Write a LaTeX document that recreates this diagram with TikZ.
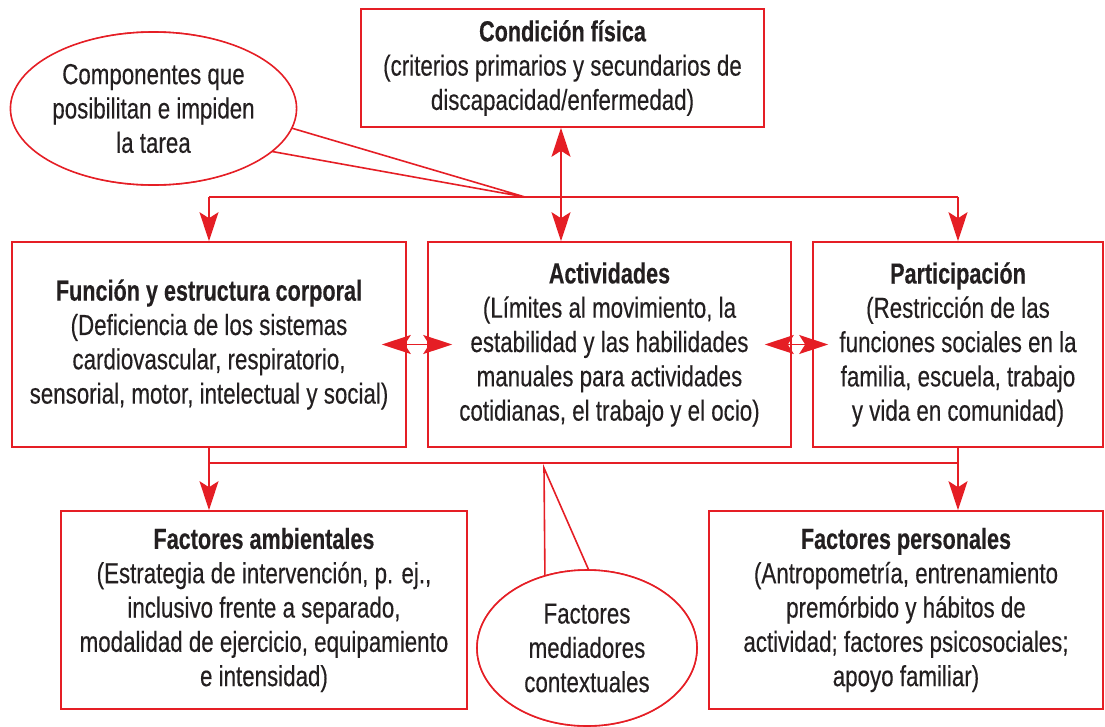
\documentclass[tikz,border=0pt]{standalone}
\usepackage{fontspec}
\setmainfont{Liberation Sans}[FakeStretch=0.77, FakeBold=0.3, BoldFeatures={FakeStretch=0.745}]
\usetikzlibrary{shapes.geometric,arrows.meta,calc}
\definecolor{rd}{HTML}{E51E25}
\definecolor{tx}{HTML}{231F20}
\tikzset{
  txt/.style={text=tx, align=center, font=\fontsize{29}{34.3}\selectfont},
  box/.style={txt, draw=rd, line width=1.6pt, fill=white, inner sep=0pt},
  oval/.style={txt, ellipse, draw=rd, line width=1.6pt, fill=white, inner sep=0pt},
  con/.style={draw=rd, line width=1.6pt},
  tip/.tip={Stealth[length=29pt,width=19pt,inset=6pt]},
  arr/.style={con, -tip},
  dbl/.style={con, tip-tip},
}
\begin{document}
\begin{tikzpicture}[x=1pt,y=-1pt]
\useasboundingbox (0,0) rectangle (1105,726);
% boxes
\node[box, minimum width=403pt, minimum height=118pt] (cond) at (562.5,68)
  {{\bfseries Condición física}\\(criterios primarios y secundarios de\\discapacidad/enfermedad)};
\node[box, minimum width=394pt, minimum height=205pt] (fun) at (209,344.5)
  {{\bfseries Función y estructura corporal}\\(Deficiencia de los sistemas\\cardiovascular, respiratorio,\\sensorial, motor, intelectual y social)};
\node[box, minimum width=363pt, minimum height=205pt] (act) at (609.5,344.5)
  {{\bfseries Actividades}\\(Límites al movimiento, la\\estabilidad y las habilidades\\manuales para actividades\\cotidianas, el trabajo y el ocio)};
\node[box, minimum width=290pt, minimum height=205pt] (par) at (958,344.5)
  {{\bfseries Participación}\\(Restricción de las\\funciones sociales en la\\familia, escuela, trabajo\\y vida en comunidad)};
\node[box, minimum width=406pt, minimum height=198pt] (amb) at (264,610)
  {{\bfseries Factores ambientales}\\(Estrategia de intervención, p. ej.,\\inclusivo frente a separado,\\modalidad de ejercicio, equipamiento\\e intensidad)};
\node[box, minimum width=394pt, minimum height=198pt] (per) at (906,610)
  {{\bfseries Factores personales}\\(Antropometría, entrenamiento\\premórbido y hábitos de\\actividad; factores psicosociales;\\apoyo familiar)};
% junctions
\coordinate (j1) at (525,197);
\coordinate (j2) at (544,463);
\coordinate (k2) at (544,468);
% top connectors
\draw[con] (fun.north |- j1) -- (par.north |- j1);
\draw[arr] (fun.north |- j1) -- (fun.north);
\draw[arr] (par.north |- j1) -- (par.north);
\draw[dbl] ([xshift=-1.5pt]cond.south) -- ([xshift=-1.5pt]cond.south |- act.north);
% middle double arrows
\draw[dbl] ([xshift=-25pt]fun.east) -- ([xshift=25pt]act.west);
\draw[dbl] ([xshift=-27pt]act.east) -- ([xshift=16pt]par.west);
% bottom connectors
\draw[con] (fun.south |- j2) -- (par.south |- j2);
\draw[arr] (fun.south) -- (fun.south |- amb.north);
\draw[arr] (par.south) -- (par.south |- per.north);
% top callout
\node[oval, minimum width=281pt, minimum height=153pt] (e1) at (153.5,108.5) {};
\draw[con] (e1.-8) -- (j1) -- (e1.-20);
\node[oval, minimum width=281pt, minimum height=153pt] (e1b) at (153.5,108.5)
  {Componentes que\\posibilitan e impiden\\la tarea};
% bottom callout
\node[oval, minimum width=220pt, minimum height=156pt] (e2) at (587,648) {};
\draw[con] (e2.120) -- (k2) -- (e2.89);
\node[oval, minimum width=220pt, minimum height=156pt] (e2b) at (587,648)
  {Factores\\mediadores\\contextuales};
\end{tikzpicture}
\end{document}
